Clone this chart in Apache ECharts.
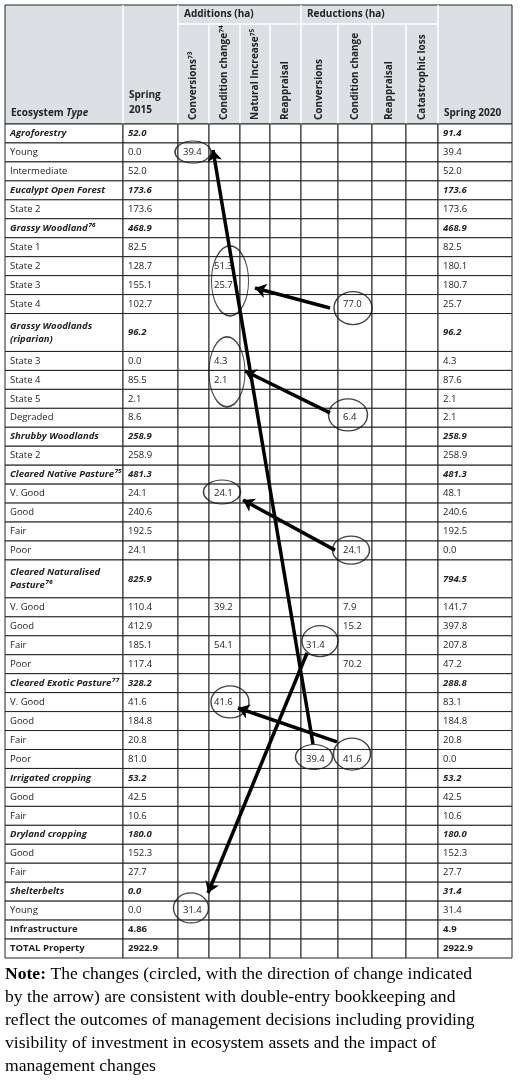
<!DOCTYPE html>
<html><head><meta charset="utf-8">
<script src="https://cdn.jsdelivr.net/npm/echarts@6/dist/echarts.min.js"></script>
<style>html,body{margin:0;padding:0;background:#fff}#c{width:520px;height:1086px}</style>
</head><body><div id="c"></div>
<script>
// ---- data ----
const names = ['Agroforestry','Young','Intermediate','Eucalypt Open Forest','State 2','Grassy Woodland⁷⁶','State 1','State 2','State 3','State 4',
 'Grassy Woodlands\n(riparian)','State 3','State 4','State 5','Degraded','Shrubby Woodlands','State 2','Cleared Native Pasture⁷⁵','V. Good','Good','Fair','Poor',
 'Cleared Naturalised\nPasture⁷⁶','V. Good','Good','Fair','Poor','Cleared Exotic Pasture⁷⁷','V. Good','Good','Fair','Poor',
 'Irrigated cropping','Good','Fair','Dryland cropping','Good','Fair','Shelterbelts','Young','Infrastructure','TOTAL Property'];
const spring2015 = ['52.0','0.0','52.0','173.6','173.6','468.9','82.5','128.7','155.1','102.7','96.2','0.0','85.5','2.1','8.6','258.9','258.9','481.3','24.1','240.6','192.5','24.1',
 '825.9','110.4','412.9','185.1','117.4','328.2','41.6','184.8','20.8','81.0','53.2','42.5','10.6','180.0','152.3','27.7','0.0','0.0','4.86','2922.9'];
const spring2020 = ['91.4','39.4','52.0','173.6','173.6','468.9','82.5','180.1','180.7','25.7','96.2','4.3','87.6','2.1','2.1','258.9','258.9','481.3','48.1','240.6','192.5','0.0',
 '794.5','141.7','397.8','207.8','47.2','288.8','83.1','184.8','20.8','0.0','53.2','42.5','10.6','180.0','152.3','27.7','31.4','31.4','4.9','2922.9'];
const rowKind = ['g','s','s','g','s','g','s','s','s','s','g','s','s','s','s','g','s','g','s','s','s','s','g','s','s','s','s','g','s','s','s','s','g','s','s','g','s','s','g','s','b','b'];
// changes: [row, value]
const addConversions = [[1,39.4],[39,31.4]];
const addCondition = [[7,51.3],[8,25.7],[11,4.3],[12,2.1],[18,24.1],[23,39.2],[25,54.1],[28,41.6]];
const redConversions = [[25,31.4],[31,39.4]];
const redCondition = [[9,77.0],[14,6.4],[21,24.1],[23,7.9],[24,15.2],[26,70.2],[31,41.6]];
// annotations (x in table px units, y in row units)
const circles = [[188,1.48,36,22],[225,8.28,37,70],[348,9.71,38,33],[222,13.08,36,70],[343,15.35,39,32],[217,19.41,37,24],
 [346,22.48,37,28],[315,27.28,36,31],[225,30.49,38,32],[309,33.4,37,25],[347,33.24,37,32],[186,41.36,35,30]];
const arrows = [[[308,32.71],[208,1.37]],[[302,27.91],[203,40.57]],[[325,9.71],[250,8.65]],[[325,15.24],[240,13.03]],[[330,22.48],[238,19.84]],[[332,32.6],[233,30.81]]];

// ---- layout ----
const colEdges = [0,118,173,204,235,265,296,333,367,401,433,507];
const rowH = names.map(n => n.indexOf('\n')>=0 ? 2 : 1);
const rowStart = []; let acc = 0; rowH.forEach(h => { rowStart.push(acc); acc += h; });
const cellText = names.map(() => new Array(11).fill(''));
names.forEach((n,i) => { cellText[i][0]=n; cellText[i][1]=spring2015[i]; cellText[i][10]=spring2020[i]; });
[[addConversions,2],[addCondition,3],[redConversions,6],[redCondition,7]].forEach(([arr,c]) => arr.forEach(([r,v]) => cellText[r][c]=v.toFixed(1)));

const FONT = '"Open Sans", "Liberation Sans", sans-serif';
const chart = echarts.init(document.getElementById('c'));
const TL = 5, TT = 124, TW = 507, TH = 834;

function renderRow(params, api) {
  const r = api.value(0);
  const y0 = rowStart[r], y1 = y0 + rowH[r];
  const kids = [];
  const k = rowKind[r];
  for (let c = 0; c < 11; c++) {
    const p0 = api.coord([colEdges[c], y0]), p1 = api.coord([colEdges[c+1], y1]);
    kids.push({type:'rect', shape:{x:p0[0], y:p0[1], width:p1[0]-p0[0], height:p1[1]-p0[1]}, style:{fill:'#fff', stroke:'#222', lineWidth:1}});
    const t = cellText[r][c];
    if (t) {
      const bold = (k==='g'||k==='b') && (c===0||c===1||c===10);
      const ital = k==='g' && (c===0||c===1||c===10);
      kids.push({type:'text', style:{text:t, x:p0[0]+5, y:(p0[1]+p1[1])/2, verticalAlign:'middle', align:'left',
        font:(ital?'italic ':'')+(bold?'bold ':'')+'9.5px '+FONT, fill:'#222', lineHeight:13}});
    }
  }
  return {type:'group', children:kids};
}

// header graphics
const g = [];
g.push({type:'rect', shape:{x:TL, y:5, width:TW, height:TT-5}, style:{fill:'#dcdfe3', stroke:'#222', lineWidth:1}});
g.push({type:'line', shape:{x1:TL+colEdges[2], y1:24, x2:TL+colEdges[10], y2:24}, style:{stroke:'#fff', lineWidth:1.5}});
[1,2,6,10].forEach(c => g.push({type:'line', shape:{x1:TL+colEdges[c], y1:5, x2:TL+colEdges[c], y2:TT}, style:{stroke:'#fff', lineWidth:1.5}}));
[3,4,5,7,8,9].forEach(c => g.push({type:'line', shape:{x1:TL+colEdges[c], y1:24, x2:TL+colEdges[c], y2:TT}, style:{stroke:'#fff', lineWidth:1.5}}));
g.push({type:'text', left:TL+colEdges[2]+6, top:9, style:{text:'Additions (ha)', font:'bold 10px '+FONT, fill:'#222'}});
g.push({type:'text', left:TL+colEdges[6]+6, top:9, style:{text:'Reductions (ha)', font:'bold 10px '+FONT, fill:'#222'}});
g.push({type:'text', x:TL+6, y:118, style:{text:'{b|Ecosystem }{i|Type}', verticalAlign:'bottom', rich:{b:{font:'bold 10px '+FONT, fill:'#222'}, i:{font:'italic bold 10px '+FONT, fill:'#222'}}}});
g.push({type:'text', x:TL+colEdges[1]+6, y:118, style:{text:'Spring\n2015', verticalAlign:'bottom', lineHeight:15, font:'bold 10px '+FONT, fill:'#222'}});
g.push({type:'text', x:TL+colEdges[10]+6, y:118, style:{text:'Spring 2020', verticalAlign:'bottom', font:'bold 10px '+FONT, fill:'#222'}});
const vHead = ['Conversions⁷³','Condition change⁷⁴','Natural Increase⁷⁵','Reappraisal','Conversions','Condition change','Reappraisal','Catastrophic loss'];
vHead.forEach((t,i) => {
  const c = i+2;
  g.push({type:'text', x:TL+(colEdges[c]+colEdges[c+1])/2, y:120, rotation:Math.PI/2,
    style:{text:t, align:'left', verticalAlign:'middle', font:'bold 10px '+FONT, fill:'#222'}});
});
g.push({type:'text', x:5, y:963, style:{text:'{b|Note:} The changes (circled, with the direction of change indicated\nby the arrow) are consistent with double-entry bookkeeping and\nreflect the outcomes of management decisions including providing\nvisibility of investment in ecosystem assets and the impact of\nmanagement changes',
  font:'17.6px "Liberation Serif", serif', fill:'#000', lineHeight:23, rich:{b:{font:'bold 17.6px "Liberation Serif", serif', fill:'#000'}}}});

chart.setOption({
  animation:false,
  grid:{left:TL, top:TT, width:TW, height:TH},
  xAxis:{type:'value', min:0, max:507, show:false},
  yAxis:{type:'value', min:0, max:44, inverse:true, show:false},
  graphic:g,
  series:[
    {type:'custom', renderItem:renderRow, data:names.map((n,i)=>[i]), encode:{x:[], y:[]}, z:1},
    {type:'scatter', symbol:'circle', z:3, silent:true,
     data:circles.map(c=>({value:[c[0],c[1]], symbolSize:[c[2],c[3]]})),
     itemStyle:{color:'rgba(0,0,0,0)', borderColor:'#111', borderWidth:1.3}},
    {type:'lines', coordinateSystem:'cartesian2d', z:4, silent:true,
     symbol:['none','arrow'], symbolSize:11,
     lineStyle:{color:'#000', width:3.5, opacity:1},
     data:arrows.map(a=>({coords:a}))}
  ]
});
</script></body></html>
